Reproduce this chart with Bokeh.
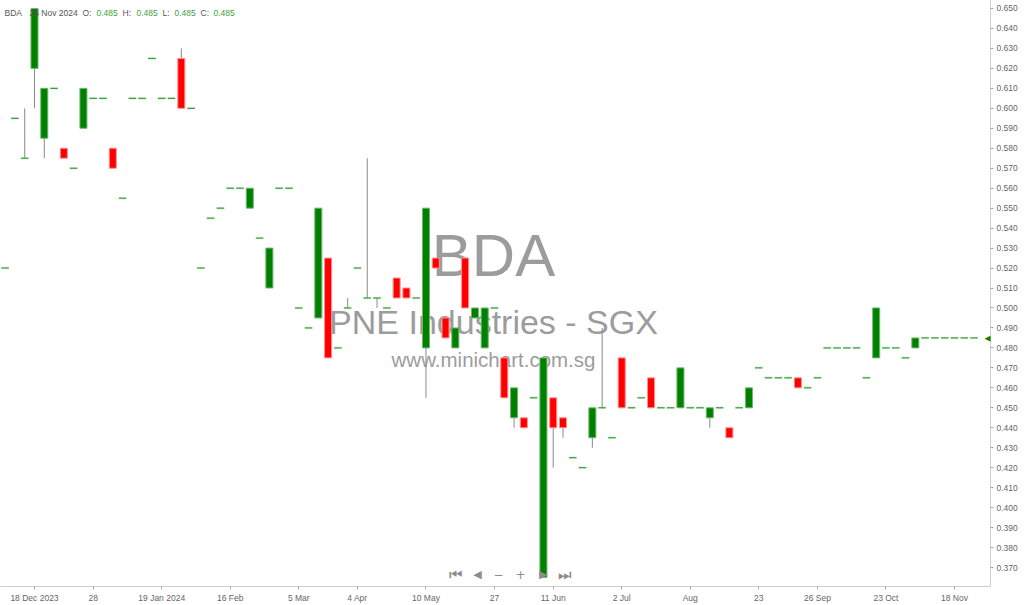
from bokeh.plotting import figure
from bokeh.models import Range1d, FixedTicker, PrintfTickFormatter, Label
from bokeh.embed import file_html
from bokeh.resources import INLINE

# ---------------- data (one bar per trading session shown) ----------------
opens = [
    0.520, 0.595, 0.575, 0.620, 0.585, 0.610, 0.580, 0.570, 0.590, 0.605,
    0.605, 0.580, 0.555, 0.605, 0.605, 0.625, 0.605, 0.605, 0.625, 0.600,
    0.520, 0.545, 0.550, 0.560, 0.560, 0.550, 0.535, 0.510, 0.560, 0.560,
    0.500, 0.490, 0.495, 0.525, 0.480, 0.500, 0.520, 0.505, 0.505, 0.500,
    0.515, 0.510, 0.505, 0.480, 0.525, 0.495, 0.480, 0.525, 0.495, 0.480,
    0.500, 0.475, 0.445, 0.445, 0.455, 0.365, 0.455, 0.445, 0.425, 0.420,
    0.435, 0.450, 0.435, 0.475, 0.450, 0.455, 0.465, 0.450, 0.450, 0.450,
    0.450, 0.450, 0.445, 0.450, 0.440, 0.450, 0.450, 0.470, 0.465, 0.465,
    0.465, 0.465, 0.460, 0.465, 0.480, 0.480, 0.480, 0.480, 0.465, 0.475,
    0.480, 0.480, 0.475, 0.480, 0.485, 0.485, 0.485, 0.485, 0.485, 0.485,
]
highs = [
    0.520, 0.595, 0.600, 0.650, 0.610, 0.610, 0.580, 0.570, 0.610, 0.605,
    0.605, 0.580, 0.555, 0.605, 0.605, 0.625, 0.605, 0.605, 0.630, 0.600,
    0.520, 0.545, 0.550, 0.560, 0.560, 0.560, 0.535, 0.530, 0.560, 0.560,
    0.500, 0.490, 0.550, 0.525, 0.480, 0.505, 0.520, 0.575, 0.505, 0.500,
    0.515, 0.510, 0.505, 0.550, 0.525, 0.495, 0.490, 0.525, 0.500, 0.500,
    0.500, 0.475, 0.460, 0.445, 0.455, 0.475, 0.455, 0.445, 0.425, 0.420,
    0.450, 0.490, 0.435, 0.475, 0.450, 0.455, 0.465, 0.450, 0.450, 0.470,
    0.450, 0.450, 0.450, 0.450, 0.440, 0.450, 0.460, 0.470, 0.465, 0.465,
    0.465, 0.465, 0.460, 0.465, 0.480, 0.480, 0.480, 0.480, 0.465, 0.500,
    0.480, 0.480, 0.475, 0.485, 0.485, 0.485, 0.485, 0.485, 0.485, 0.485,
]
lows = [
    0.520, 0.595, 0.575, 0.600, 0.575, 0.610, 0.575, 0.570, 0.590, 0.605,
    0.605, 0.570, 0.555, 0.605, 0.605, 0.625, 0.605, 0.605, 0.600, 0.600,
    0.520, 0.545, 0.550, 0.560, 0.560, 0.550, 0.535, 0.510, 0.560, 0.560,
    0.500, 0.490, 0.495, 0.475, 0.480, 0.500, 0.520, 0.505, 0.500, 0.500,
    0.505, 0.505, 0.505, 0.455, 0.520, 0.485, 0.480, 0.500, 0.495, 0.480,
    0.500, 0.455, 0.440, 0.440, 0.455, 0.365, 0.420, 0.435, 0.425, 0.420,
    0.430, 0.450, 0.435, 0.450, 0.450, 0.455, 0.450, 0.450, 0.450, 0.450,
    0.450, 0.450, 0.440, 0.450, 0.435, 0.450, 0.450, 0.470, 0.465, 0.465,
    0.465, 0.460, 0.460, 0.465, 0.480, 0.480, 0.480, 0.480, 0.465, 0.475,
    0.480, 0.480, 0.475, 0.480, 0.485, 0.485, 0.485, 0.485, 0.485, 0.485,
]
closes = [
    0.520, 0.595, 0.575, 0.650, 0.610, 0.610, 0.575, 0.570, 0.610, 0.605,
    0.605, 0.570, 0.555, 0.605, 0.605, 0.625, 0.605, 0.605, 0.600, 0.600,
    0.520, 0.545, 0.550, 0.560, 0.560, 0.560, 0.535, 0.530, 0.560, 0.560,
    0.500, 0.490, 0.550, 0.475, 0.480, 0.500, 0.520, 0.505, 0.505, 0.500,
    0.505, 0.505, 0.505, 0.550, 0.520, 0.485, 0.490, 0.500, 0.500, 0.500,
    0.500, 0.455, 0.460, 0.440, 0.455, 0.475, 0.440, 0.440, 0.425, 0.420,
    0.450, 0.450, 0.435, 0.450, 0.450, 0.455, 0.450, 0.450, 0.450, 0.470,
    0.450, 0.450, 0.450, 0.450, 0.435, 0.450, 0.460, 0.470, 0.465, 0.465,
    0.465, 0.460, 0.460, 0.465, 0.480, 0.480, 0.480, 0.480, 0.465, 0.500,
    0.480, 0.480, 0.475, 0.485, 0.485, 0.485, 0.485, 0.485, 0.485, 0.485,
]
tick_positions = [3, 9, 16, 23, 30, 36, 43, 50, 56, 63, 70, 77, 83, 90, 97]
tick_labels = ["18 Dec 2023", "28", "19 Jan 2024", "16 Feb", "5 Mar", "4 Apr",
               "10 May", "27", "11 Jun", "2 Jul", "Aug", "23", "26 Sep",
               "23 Oct", "18 Nov"]
price_ticks = [round(0.370 + 0.01 * k, 3) for k in range(29)]
last_date = "26 Nov 2024"
symbol = "BDA"
company = "PNE Industries - SGX"
site = "www.minichart.com.sg"

# ---------------- figure ----------------
W, H = 1024, 605
FW, FH = 990, 587            # plot frame size (axes take the rest)
PX = 9.787                   # pixels per bar
X0 = 3 - 34 / PX
X1 = X0 + FW / PX
Y1 = 0.650 + 8 / 2000.0
Y0 = Y1 - FH / 2000.0

def sx(px):  # page pixel -> data x (for text placement)
    return X0 + px / PX

def sy(py):  # page pixel -> data y
    return Y1 - py / 2000.0

p = figure(width=W, height=H, output_backend="svg", toolbar_location=None,
           x_range=Range1d(X0, X1), y_range=Range1d(Y0, Y1),
           y_axis_location="right",
           min_border_left=0, min_border_top=0, min_border_right=W - FW,
           min_border_bottom=H - FH)
p.background_fill_color = "white"
p.border_fill_color = "white"
p.outline_line_color = None
p.xgrid.visible = False
p.ygrid.visible = False

FONT = "Liberation Sans"
for ax in (p.xaxis[0], p.yaxis[0]):
    ax.axis_line_color = "#cfcfcf"
    ax.major_tick_line_color = "#aaaaaa"
    ax.minor_tick_line_color = None
    ax.major_tick_in = 0
    ax.major_tick_out = 3
    ax.major_label_text_color = "#666666"
    ax.major_label_text_font = FONT
    ax.major_label_text_font_size = "8.5px"
    ax.major_label_standoff = 3

p.xaxis.ticker = FixedTicker(ticks=tick_positions)
p.xaxis.major_label_overrides = {t: l for t, l in zip(tick_positions, tick_labels)}
p.yaxis.ticker = FixedTicker(ticks=price_ticks)
p.yaxis.formatter = PrintfTickFormatter(format="%.3f")

# ---------------- watermark ----------------
for txt, px, py, size in [(symbol, 493, 255, "60px"), (company, 493, 322, "34px"),
                          (site, 493, 360, "20.5px")]:
    p.add_layout(Label(x=sx(px), y=sy(py), text=txt, text_align="center",
                       text_baseline="middle", text_color="#9c9c9c",
                       text_font=FONT, text_font_size=size, level="underlay"))

# ---------------- candles ----------------
n = len(opens)
xs = list(range(n))
wx = [i for i in xs if highs[i] > lows[i] + 1e-9]
p.segment(x0=wx, x1=wx, y0=[lows[i] for i in wx], y1=[highs[i] for i in wx],
          line_color="#8a8a8a", line_width=1)

bx = [i for i in xs if abs(opens[i] - closes[i]) > 1e-9]
tops = [max(opens[i], closes[i]) for i in bx]
bots = [min(opens[i], closes[i]) for i in bx]
fills = ["#008000" if closes[i] > opens[i] else "#ff0000" for i in bx]
edges = ["#6fb86f" if closes[i] > opens[i] else "#ff9090" for i in bx]
p.vbar(x=bx, top=tops, bottom=bots, width=0.72, fill_color=fills,
       line_color=edges, line_width=1)

dx = [i for i in xs if abs(opens[i] - closes[i]) <= 1e-9]
dy = [closes[i] for i in dx]
p.segment(x0=[i - 0.4 for i in dx], x1=[i + 0.4 for i in dx], y0=dy, y1=dy,
          line_color="#a8dca8", line_width=2.5, line_alpha=0.45)
p.segment(x0=[i - 0.38 for i in dx], x1=[i + 0.38 for i in dx], y0=dy, y1=dy,
          line_color="#1f8f1f", line_width=1)

# ---------------- header ----------------
last = n - 1
hdr = [(symbol, 4, "#555555"), (last_date, 29, "#555555"),
       ("O:", 82, "#555555"), ("%.3f" % opens[last], 96, "#3f9f3f"),
       ("H:", 122, "#555555"), ("%.3f" % highs[last], 136, "#3f9f3f"),
       ("L:", 162, "#555555"), ("%.3f" % lows[last], 174, "#3f9f3f"),
       ("C:", 200, "#555555"), ("%.3f" % closes[last], 213, "#3f9f3f")]
for txt, px, col in hdr:
    p.add_layout(Label(x=sx(px), y=sy(13), text=txt, text_align="left",
                       text_baseline="middle", text_color=col,
                       text_font=FONT, text_font_size="8.5px"))

# ---------------- navigation glyphs ----------------
for txt, px, fs in [("⏮", 455, "15px"), ("◀", 477, "11px"), ("−", 498, "12px"),
                    ("+", 520, "12px"), ("▶", 543, "11px"), ("⏭", 564, "15px")]:
    p.add_layout(Label(x=sx(px), y=sy(575), text=txt, text_align="center",
                       text_baseline="middle", text_color="#8c8c8c",
                       text_font="DejaVu Sans", text_font_size=fs))

# ---------------- last price marker (tip of the price tag at the axis) ----------------
p.add_layout(Label(x=984, x_units="canvas", y=closes[last], text="◀",
                   text_align="left", text_baseline="middle", text_color="#008000",
                   text_font="DejaVu Sans", text_font_size="13px"))

open("out.html", "w").write(file_html(p, INLINE))
